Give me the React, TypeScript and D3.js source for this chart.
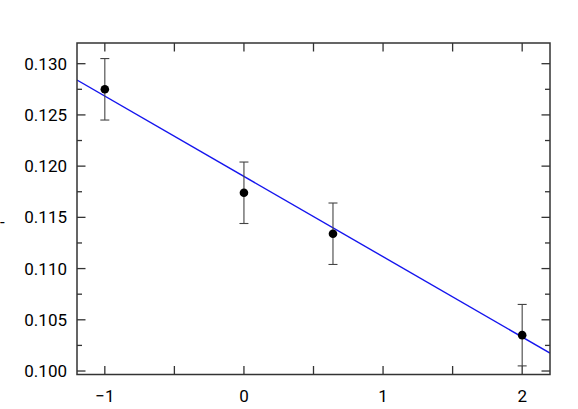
import * as d3 from 'd3'

// measured points with symmetric error bars
const xValues = [-1, 0, 0.64, 2]
const yValues = [0.1275, 0.1174, 0.1134, 0.1035]
const yErrors = [0.003, 0.003, 0.003, 0.003]

// linear fit y = a + b x
const fitIntercept = 0.119
const fitSlope = -0.00784

const xTickLabels = [-1, 0, 1, 2]
const yTickLabels = [0.1, 0.105, 0.11, 0.115, 0.12, 0.125, 0.13]

const W = 578
const H = 409
const left = 77
const right = 550
const top = 43
const bottom = 374.5

const App = () => {
  const x = d3.scaleLinear().domain([-1.2, 2.2]).range([left, right])
  const y = d3.scaleLinear().domain([0.09966, 0.13202]).range([bottom, top])

  const xMinor = d3.range(-1, 2.01, 0.5)
  const yMinor = d3.range(0.1, 0.1301, 0.0025)
  const isMajorY = (v: number) => Math.abs(v / 0.005 - Math.round(v / 0.005)) < 1e-6

  const xd = x.domain()
  const fitLine = d3.line<number>()
    .x((d) => x(d))
    .y((d) => y(fitIntercept + fitSlope * d))

  const axisColor = '#333'
  const font = "'Liberation Sans Narrow', 'Roboto', sans-serif"

  return (
    <svg width={W} height={H} style={{ position: 'absolute', left: 0, top: 0 }}>
      <rect width={W} height={H} fill="#fff" />
      <text x={0} y={228} fontFamily={font} fontSize={17} fill="#000">-</text>

      <defs>
        <clipPath id="plot">
          <rect x={left} y={top} width={right - left} height={bottom - top} />
        </clipPath>
      </defs>

      {/* fit */}
      <path d={fitLine(xd) ?? ''} stroke="#1515ee" strokeWidth={1.4} fill="none" clipPath="url(#plot)" />

      {/* error bars and points */}
      {xValues.map((v, i) => {
        const cx = x(v)
        const y0 = y(yValues[i] - yErrors[i])
        const y1 = y(yValues[i] + yErrors[i])
        return (
          <g key={i}>
            <line x1={cx} x2={cx} y1={y0} y2={y1} stroke="#444" strokeWidth={1.1} />
            <line x1={cx - 4.5} x2={cx + 4.5} y1={y0} y2={y0} stroke="#444" strokeWidth={1.1} />
            <line x1={cx - 4.5} x2={cx + 4.5} y1={y1} y2={y1} stroke="#444" strokeWidth={1.1} />
            <circle cx={cx} cy={y(yValues[i])} r={4.3} fill="#000" />
          </g>
        )
      })}

      {/* ticks */}
      {xMinor.map((v) => (
        <g key={'xt' + v}>
          <line x1={x(v)} x2={x(v)} y1={bottom} y2={bottom - 8.5} stroke={axisColor} strokeWidth={1.3} />
          <line x1={x(v)} x2={x(v)} y1={top} y2={top + 8.5} stroke={axisColor} strokeWidth={1.3} />
        </g>
      ))}
      {yMinor.map((v) => {
        const len = isMajorY(v) ? 8.5 : 5
        return (
          <g key={'yt' + v}>
            <line x1={left} x2={left + len} y1={y(v)} y2={y(v)} stroke={axisColor} strokeWidth={1.3} />
            <line x1={right} x2={right - len} y1={y(v)} y2={y(v)} stroke={axisColor} strokeWidth={1.3} />
          </g>
        )
      })}

      {/* frame */}
      <rect x={left} y={top} width={right - left} height={bottom - top} fill="none" stroke={axisColor} strokeWidth={1.5} />

      {/* tick labels */}
      {xTickLabels.map((v) => (
        <text key={'xl' + v} x={x(v)} y={402} textAnchor="middle" fontFamily={font} fontSize={17} fill="#000">
          {v < 0 ? '\u2212' + Math.abs(v) : v}
        </text>
      ))}
      {yTickLabels.map((v) => (
        <text key={'yl' + v} x={67} y={y(v) + 6} textAnchor="end" fontFamily={font} fontSize={17} fill="#000">
          {d3.format('.3f')(v)}
        </text>
      ))}
    </svg>
  )
}

export default App
